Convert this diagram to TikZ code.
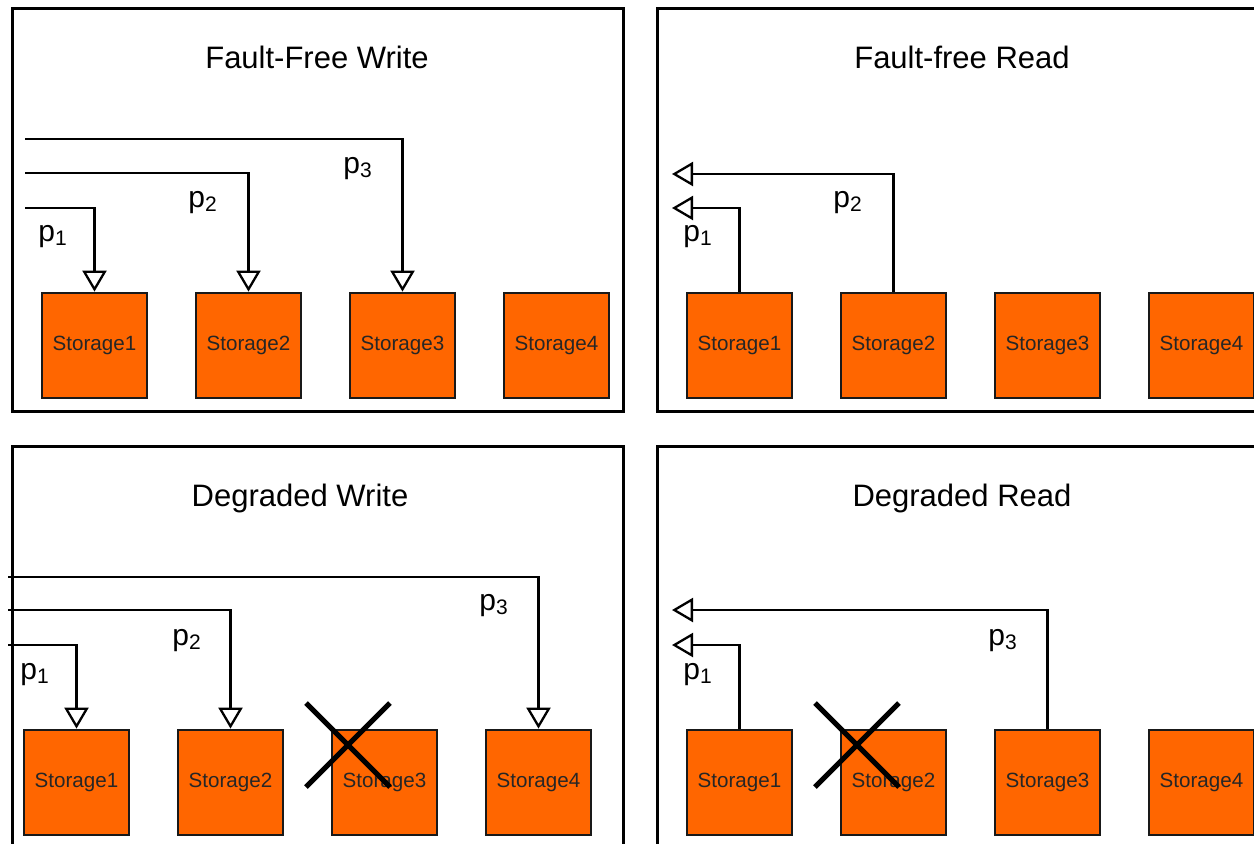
\documentclass[tikz,border=0pt]{standalone}
\usepackage{fontspec}
\setmainfont{Liberation Sans}
\usetikzlibrary{arrows.meta}
\definecolor{diskorange}{HTML}{FF6600}
\tikzset{
    panel/.style={line width=1.5pt},
    paneltitle/.style={font=\fontsize{15.5}{18}\selectfont, anchor=base},
    disk/.style={draw=black!90, line width=1.4pt, fill=diskorange, minimum size=52.5pt,
        inner sep=0pt, font=\fontsize{10.3}{12}\selectfont, text=black!85},
    plabel/.style={font=\fontsize{15}{18}\selectfont, anchor=base west, inner sep=0pt},
    req/.style={line width=1.15pt, -{Triangle[open, length=10.5pt, width=12pt]}},
    failed/.style={line width=2.6pt},
}
\begin{document}
\begin{tikzpicture}[x=0.5pt, y=-0.5pt]
    \useasboundingbox (0,0) rectangle (1254,843);
    \clip (0,0) rectangle (1254,843);

    % fault-free write
    \draw[panel] (12,8) rectangle (623,411);
    \node[paneltitle] (fwtitle) at (317,68) {Fault-Free Write};
    \node[disk] (fw1) at (94.5,345.5) {Storage1};
    \node[disk] (fw2) at (248.5,345.5) {Storage2};
    \node[disk] (fw3) at (402.5,345.5) {Storage3};
    \node[disk] (fw4) at (556.5,345.5) {Storage4};
    \coordinate (fwin1) at (25,208);
    \coordinate (fwin2) at (25,173);
    \coordinate (fwin3) at (25,139);
    \draw[req] (fwin1) -| (fw1.north);
    \draw[req] (fwin2) -| (fw2.north);
    \draw[req] (fwin3) -| (fw3.north);
    \node[plabel] (fwp1) at (38,241) {p\textsubscript{1}};
    \node[plabel] (fwp2) at (188,207) {p\textsubscript{2}};
    \node[plabel] (fwp3) at (343,173) {p\textsubscript{3}};

    % fault-free read
    \draw[panel] (657,8) rectangle (1268,411);
    \node[paneltitle] (frtitle) at (962,68) {Fault-free Read};
    \node[disk] (fr1) at (739.5,345.5) {Storage1};
    \node[disk] (fr2) at (893.5,345.5) {Storage2};
    \node[disk] (fr3) at (1047.5,345.5) {Storage3};
    \node[disk] (fr4) at (1201.5,345.5) {Storage4};
    \coordinate (frout1) at (672,208);
    \coordinate (frout2) at (672,174);
    \draw[req] (fr1.north) |- (frout1);
    \draw[req] (fr2.north) |- (frout2);
    \node[plabel] (frp1) at (683,241) {p\textsubscript{1}};
    \node[plabel] (frp2) at (833,207) {p\textsubscript{2}};

    % degraded write
    \draw[panel] (12,446) rectangle (623,849);
    \node[paneltitle] (dwtitle) at (300,506) {Degraded Write};
    \node[disk] (dw1) at (76.5,782.5) {Storage1};
    \node[disk] (dw2) at (230.5,782.5) {Storage2};
    \node[disk] (dw3) at (384.5,782.5) {Storage3};
    \node[disk] (dw4) at (538.5,782.5) {Storage4};
    \coordinate (dwin1) at (8,645);
    \coordinate (dwin2) at (8,610);
    \coordinate (dwin4) at (8,577);
    \draw[req] (dwin1) -| (dw1.north);
    \draw[req] (dwin2) -| (dw2.north);
    \draw[req] (dwin4) -| (dw4.north);
    \node[plabel] (dwp1) at (20,679) {p\textsubscript{1}};
    \node[plabel] (dwp2) at (172,645) {p\textsubscript{2}};
    \node[plabel] (dwp3) at (479,610) {p\textsubscript{3}};
    \draw[failed] (306,703) -- (390,787);
    \draw[failed] (390,703) -- (306,787);

    % degraded read
    \draw[panel] (657,446) rectangle (1268,849);
    \node[paneltitle] (drtitle) at (962,506) {Degraded Read};
    \node[disk] (dr1) at (739.5,782.5) {Storage1};
    \node[disk] (dr2) at (893.5,782.5) {Storage2};
    \node[disk] (dr3) at (1047.5,782.5) {Storage3};
    \node[disk] (dr4) at (1201.5,782.5) {Storage4};
    \coordinate (drout1) at (672,645);
    \coordinate (drout3) at (672,610);
    \draw[req] (dr1.north) |- (drout1);
    \draw[req] (dr3.north) |- (drout3);
    \node[plabel] (drp1) at (683,679) {p\textsubscript{1}};
    \node[plabel] (drp3) at (988,645) {p\textsubscript{3}};
    \draw[failed] (815,703) -- (899,787);
    \draw[failed] (899,703) -- (815,787);
\end{tikzpicture}
\end{document}
